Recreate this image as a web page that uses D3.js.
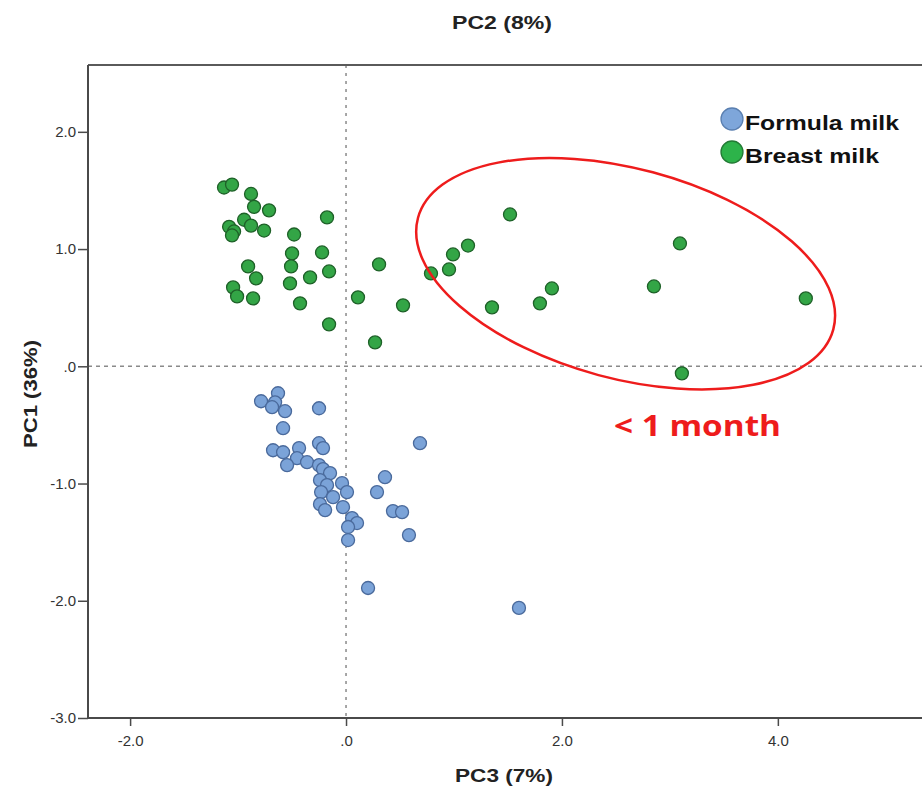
<!DOCTYPE html>
<html>
<head>
<meta charset="utf-8">
<script src="https://cdn.jsdelivr.net/npm/d3@7"></script>
<style>
  html, body { margin: 0; padding: 0; background: #fff; }
  svg { display: block; }
</style>
</head>
<body>
<svg id="chart" width="922" height="789"></svg>
<script>
// ---- Data (PC3 on x, PC1 on y) ----
const seriesNames = ["Formula milk", "Breast milk"];

const formulaX = [-0.787, -0.63, -0.657, -0.685, -0.565, -0.25, -0.583, -0.25, -0.213, -0.676,
  -0.583, -0.435, -0.454, -0.361, -0.546, -0.25, -0.213, -0.148, -0.241, -0.176,
  -0.037, -0.231, -0.12, 0.009, -0.241, -0.194, -0.028, 0.056, 0.102, 0.019,
  0.019, 0.685, 0.361, 0.287, 0.435, 0.519, 0.583, 0.204, 1.602];
const formulaY = [-0.298, -0.23, -0.307, -0.349, -0.383, -0.358, -0.528, -0.656, -0.698, -0.716,
  -0.733, -0.698, -0.784, -0.818, -0.843, -0.843, -0.877, -0.911, -0.971, -1.014,
  -0.997, -1.073, -1.116, -1.073, -1.176, -1.227, -1.201, -1.295, -1.337, -1.371,
  -1.482, -0.656, -0.946, -1.073, -1.235, -1.244, -1.44, -1.891, -2.061];

const breastX = [-1.13, -1.056, -0.88, -0.852, -0.713, -0.944, -0.88, -1.083, -1.037, -1.056,
  -0.759, -0.481, -0.176, -0.5, -0.222, -0.907, -0.509, -0.833, -0.333, -0.157,
  -0.519, -1.046, -1.009, -0.861, -0.426, -0.157, 0.306, 0.111, 0.528, 0.269,
  1.519, 1.13, 0.991, 0.954, 0.787, 1.352, 1.907, 1.796, 3.093, 2.852,
  4.259, 3.111];
const breastY = [1.525, 1.55, 1.47, 1.36, 1.33, 1.25, 1.2, 1.19, 1.15, 1.116,
  1.158, 1.124, 1.27, 0.963, 0.971, 0.852, 0.852, 0.75, 0.758, 0.809,
  0.707, 0.673, 0.596, 0.579, 0.537, 0.358, 0.869, 0.588, 0.52, 0.204,
  1.295, 1.03, 0.954, 0.826, 0.792, 0.503, 0.664, 0.537, 1.048, 0.681,
  0.579, -0.06];

const xTicks = [-2, 0, 2, 4];
const yTicks = [-3, -2, -1, 0, 1, 2];

// annotation ellipse centre (data units) and label
const ellipseCenter = [2.59, 0.79];
const annotationText = "< 1 month";

// ---- Layout ----
const svg = d3.select("#chart");
const plotLeft = 88, plotTop = 65, plotBottom = 718, plotRight = 929;

const x = d3.scaleLinear().domain([-2.39, 5.4]).range([plotLeft, plotRight]);
const y = d3.scaleLinear().domain([-3, 2.57]).range([plotBottom, plotTop]);

const fmt = d => d === 0 ? ".0" : d3.format(".1f")(d).replace("\u2212", "-");
const font = "'Liberation Sans', Arial, sans-serif";

// reference dashed lines at 0
svg.append("line")
  .attr("x1", x(0)).attr("x2", x(0))
  .attr("y1", plotTop).attr("y2", plotBottom)
  .attr("stroke", "#8a8a8a").attr("stroke-width", 1.5)
  .attr("stroke-dasharray", "3,5");
svg.append("line")
  .attr("x1", plotLeft).attr("x2", plotRight)
  .attr("y1", y(0)).attr("y2", y(0))
  .attr("stroke", "#8a8a8a").attr("stroke-width", 1.5)
  .attr("stroke-dasharray", "4,4");

// frame (top line)
svg.append("line")
  .attr("x1", plotLeft).attr("x2", 922)
  .attr("y1", plotTop).attr("y2", plotTop)
  .attr("stroke", "#5a5a5a").attr("stroke-width", 2);

// axes
const xAxis = d3.axisBottom(x).tickValues(xTicks).tickFormat(fmt).tickSize(8).tickSizeOuter(0);
const yAxis = d3.axisLeft(y).tickValues(yTicks).tickFormat(fmt).tickSize(10).tickSizeOuter(0);

const gx = svg.append("g").attr("transform", `translate(0,${plotBottom})`).call(xAxis);
const gy = svg.append("g").attr("transform", `translate(${plotLeft},0)`).call(yAxis);

[gx, gy].forEach(g => {
  g.select(".domain").attr("stroke", "#4a4a4a").attr("stroke-width", 2);
  g.selectAll(".tick line").attr("stroke", "#4a4a4a").attr("stroke-width", 1.5);
  g.selectAll(".tick text")
    .attr("fill", "#333").style("font-family", font).style("font-size", "15px");
});
gx.select(".domain").attr("d", `M${plotLeft},0H922`);
gy.select(".domain").attr("d", `M0,${plotTop}V${plotBottom}`);
gx.selectAll(".tick text").attr("dy", "1.15em");
gy.selectAll(".tick text").attr("x", -12);

// points
function drawSeries(xs, ys, fill, stroke) {
  svg.append("g").selectAll("circle")
    .data(xs.map((v, i) => [v, ys[i]]))
    .join("circle")
    .attr("cx", d => x(d[0]))
    .attr("cy", d => y(d[1]))
    .attr("r", 6.5)
    .attr("fill", fill)
    .attr("stroke", stroke)
    .attr("stroke-width", 1.3);
}
drawSeries(formulaX, formulaY, "#7ba3d8", "#4a6a9c");
drawSeries(breastX, breastY, "#33a546", "#1e6128");

// annotation ellipse
svg.append("ellipse")
  .attr("cx", 0).attr("cy", 0)
  .attr("rx", 215).attr("ry", 105)
  .attr("transform", `translate(${x(ellipseCenter[0])},${y(ellipseCenter[1])}) rotate(15)`)
  .attr("fill", "none").attr("stroke", "#ee1c1c").attr("stroke-width", 2.5);

svg.append("text")
  .attr("x", 614).attr("y", 436)
  .attr("textLength", 167).attr("lengthAdjust", "spacingAndGlyphs")
  .attr("fill", "#ee1c1c")
  .style("font-family", "'Open Sans', 'Liberation Sans', sans-serif")
  .style("font-weight", "bold").style("font-size", "29px")
  .text(annotationText);

// legend
const legendColors = [["#7ea6da", "#5a7fb0"], ["#2db34a", "#237a35"]];
const legendLengths = [154, 134];
seriesNames.forEach((name, i) => {
  const cy = 119 + i * 33;
  svg.append("circle").attr("cx", 732).attr("cy", cy).attr("r", 11)
    .attr("fill", legendColors[i][0]).attr("stroke", legendColors[i][1]).attr("stroke-width", 1.3);
  svg.append("text").attr("x", 745).attr("y", cy + 11)
    .attr("textLength", legendLengths[i]).attr("lengthAdjust", "spacingAndGlyphs")
    .attr("fill", "#111")
    .style("font-family", font).style("font-weight", "bold").style("font-size", "21px")
    .text(name);
});

// axis titles
svg.append("text").attr("x", 502).attr("y", 29).attr("text-anchor", "middle")
  .attr("textLength", 100).attr("lengthAdjust", "spacingAndGlyphs")
  .attr("fill", "#222").style("font-family", font).style("font-weight", "bold").style("font-size", "19px")
  .text("PC2 (8%)");
svg.append("text").attr("x", 504).attr("y", 782).attr("text-anchor", "middle")
  .attr("textLength", 98).attr("lengthAdjust", "spacingAndGlyphs")
  .attr("fill", "#222").style("font-family", font).style("font-weight", "bold").style("font-size", "19px")
  .text("PC3 (7%)");
svg.append("text")
  .attr("transform", "translate(37,394) rotate(-90)")
  .attr("text-anchor", "middle")
  .attr("textLength", 108).attr("lengthAdjust", "spacingAndGlyphs")
  .attr("fill", "#222").style("font-family", font).style("font-weight", "bold").style("font-size", "19px")
  .text("PC1 (36%)");
</script>
</body>
</html>
